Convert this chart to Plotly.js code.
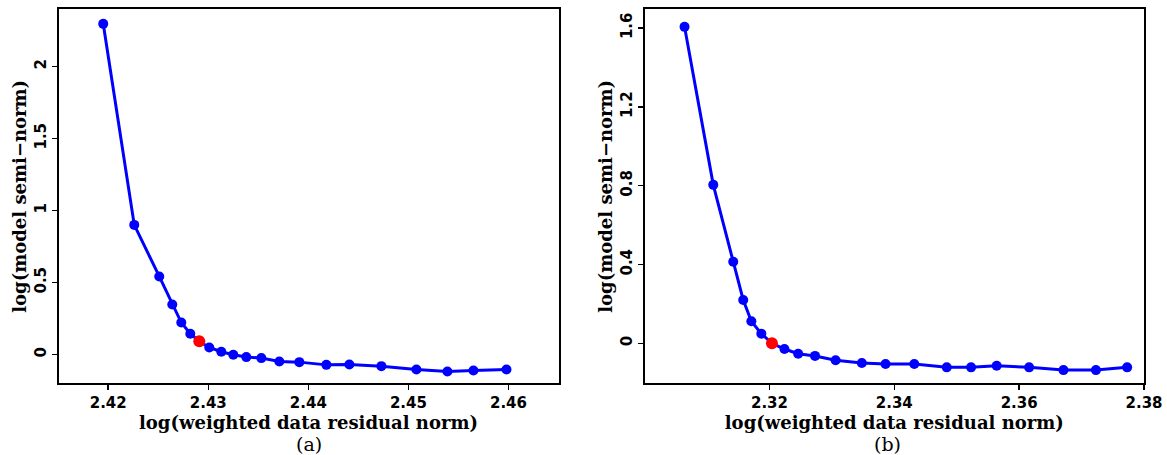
<!DOCTYPE html>
<html>
<head>
<meta charset="utf-8">
<script src="https://cdn.plot.ly/plotly-3.0.1.min.js"></script>
<style>html,body{margin:0;padding:0;background:#fff;}#chart{width:1167px;height:455px;}</style>
</head>
<body>
<div id="chart"></div>
<script>
// Panel (a)
const xA = [2.4195, 2.4226, 2.4251, 2.4264, 2.4273, 2.4282, 2.4291, 2.4301, 2.4313, 2.4325, 2.4338,
            2.4353, 2.4371, 2.4391, 2.4418, 2.4441, 2.4473, 2.4508, 2.4539, 2.4565, 2.4598];
const yA = [2.296, 0.900, 0.542, 0.347, 0.222, 0.144, 0.092, 0.049, 0.019, -0.002, -0.018,
            -0.025, -0.049, -0.053, -0.072, -0.069, -0.081, -0.104, -0.118, -0.111, -0.104];
// Panel (b)
const xB = [2.3064, 2.3110, 2.3142, 2.3158, 2.3171, 2.3187, 2.3204, 2.3224, 2.3246, 2.3273, 2.3306,
            2.3348, 2.3386, 2.3432, 2.3484, 2.3523, 2.3564, 2.3616, 2.3671, 2.3723, 2.3773];
const yB = [1.606, 0.804, 0.414, 0.220, 0.112, 0.049, 0.000, -0.029, -0.053, -0.064, -0.086,
            -0.100, -0.105, -0.105, -0.122, -0.122, -0.114, -0.122, -0.136, -0.136, -0.122];
// Highlighted (chosen) point index in each panel
const cornerA = 6;
const cornerB = 6;

const xTicksA = [2.42, 2.43, 2.44, 2.45, 2.46];
const yTicksA = [0, 0.5, 1, 1.5, 2];
const yTickTextA = ['0', '0.5', '1', '1.5', '2'];
const xTicksB = [2.32, 2.34, 2.36, 2.38];
const yTicksB = [0, 0.4, 0.8, 1.2, 1.6];
const yTickTextB = ['0', '0.4', '0.8', '1.2', '1.6'];

const xTitle = 'log(weighted data residual norm)';
const yTitle = 'log(model semi\u2212norm)';
const panelLabels = ['(a)', '(b)'];

const blue = '#0000ff';
const red = '#ff0000';

function curve(x, y, xa, ya) {
  return {x: x, y: y, xaxis: xa, yaxis: ya, type: 'scatter', mode: 'lines+markers',
          line: {color: blue, width: 3}, marker: {color: blue, size: 10}, showlegend: false,
          hoverinfo: 'x+y'};
}
function corner(x, y, i, xa, ya) {
  return {x: [x[i]], y: [y[i]], xaxis: xa, yaxis: ya, type: 'scatter', mode: 'markers',
          marker: {color: red, size: 12}, showlegend: false};
}

const tickFont = {family: 'DejaVu Sans, sans-serif', size: 15, color: '#000', weight: 'bold'};
const titleFont = {family: 'DejaVu Serif, serif', size: 18, color: '#000', weight: 'bold'};

function xaxis(domain, range, ticks, anchor) {
  return {domain: domain, range: range, anchor: anchor, tickvals: ticks,
          ticktext: ticks.map(v => v.toFixed(2)),
          showgrid: false, zeroline: false, showline: true, mirror: true, linecolor: '#000', linewidth: 2,
          ticks: 'outside', ticklen: 5, tickwidth: 1.5, tickcolor: '#000', tickfont: tickFont,
          title: {text: xTitle, font: titleFont, standoff: 0}};
}
function yaxis(domain, range, ticks, text, anchor) {
  return {domain: domain, range: range, anchor: anchor, tickvals: ticks, ticktext: text,
          tickangle: -90,
          showgrid: false, zeroline: false, showline: true, mirror: true, linecolor: '#000', linewidth: 2,
          ticks: 'outside', ticklen: 5, tickwidth: 1.5, tickcolor: '#000', tickfont: tickFont,
          title: {text: yTitle, font: titleFont, standoff: 0}};
}

const yDom = [(455 - 383.3) / 455, (455 - 9.3) / 455];
const labelFont = {family: 'DejaVu Serif, serif', size: 19, color: '#000'};
const layout = {
  width: 1167, height: 455,
  margin: {l: 0, r: 0, t: 0, b: 0},
  paper_bgcolor: '#fff', plot_bgcolor: '#fff',
  xaxis: xaxis([58.5 / 1167, 558.5 / 1167], [2.41503, 2.465], xTicksA, 'y'),
  yaxis: yaxis(yDom, [-0.2, 2.397], yTicksA, yTickTextA, 'x'),
  xaxis2: xaxis([644.6 / 1167, 1144 / 1167], [2.3000, 2.38], xTicksB, 'y2'),
  yaxis2: yaxis(yDom, [-0.203, 1.695], yTicksB, yTickTextB, 'x2'),
  annotations: [
    {text: panelLabels[0], xref: 'paper', yref: 'paper', x: 308.5 / 1167, y: (455 - 444) / 455,
     xanchor: 'center', yanchor: 'middle', showarrow: false, font: labelFont},
    {text: panelLabels[1], xref: 'paper', yref: 'paper', x: 887 / 1167, y: (455 - 444) / 455,
     xanchor: 'center', yanchor: 'middle', showarrow: false, font: labelFont}
  ]
};

const data = [
  curve(xA, yA, 'x', 'y'), corner(xA, yA, cornerA, 'x', 'y'),
  curve(xB, yB, 'x2', 'y2'), corner(xB, yB, cornerB, 'x2', 'y2')
];
Plotly.newPlot('chart', data, layout, {displayModeBar: false, staticPlot: true});
</script>
</body>
</html>
